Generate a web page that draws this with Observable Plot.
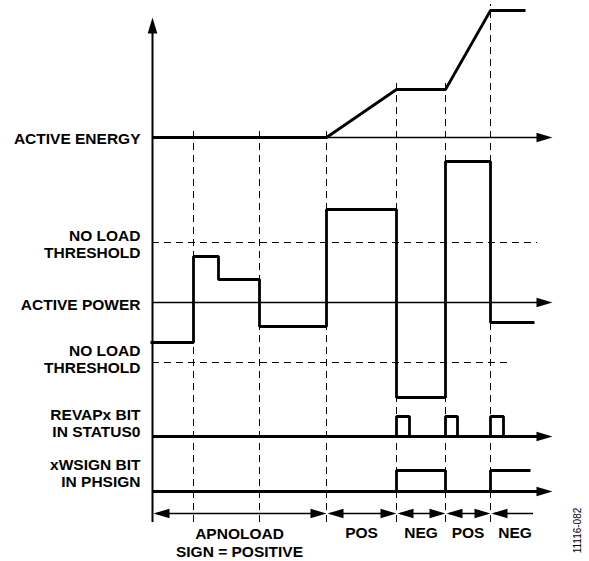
<!DOCTYPE html>
<html>
<head>
<meta charset="utf-8">
<script src="https://cdn.jsdelivr.net/npm/d3@7"></script>
<script src="https://cdn.jsdelivr.net/npm/@observablehq/plot@0.6"></script>
<style>
  html, body { margin: 0; padding: 0; background: #fff; }
  #chart { width: 589px; height: 561px; }
</style>
</head>
<body>
<div id="chart"></div>
<script>
// ---- Data (time units along the horizontal axis, signal levels) ----
const eventTimes   = [41, 107, 174, 244, 293, 338];
const energyTime   = [0, 174, 244, 293, 338, 373];
const energyValue  = [0, 0, 48, 48, 127, 127];
const powerTime    = [-2, 41, 66, 107, 174, 244, 293, 338, 382];
const powerValue   = [-40, 46, 23, -24, 93, -95, 141, -20, -20];
const noLoadThreshold = 60;
const thresholdEnds = [385, 356];           // upper, lower dashed extents
const revapTime    = [0, 244, 257, 293, 305, 338, 351, 385];
const revapBit     = [0, 1, 0, 1, 0, 1, 0, 0];
const signTime     = [0, 244, 293, 338, 378];
const signBit      = [0, 1, 0, 1, 1];
const spanStart    = [0, 174, 244, 293, 338];
const spanEnd      = [174, 244, 293, 338, 381];
const spanLabels   = ["APNOLOAD\nSIGN = POSITIVE", "POS", "NEG", "POS", "NEG"];
const figureId     = "11116-082";

// ---- Layout (track baselines in the y scale; 1 unit = 1 px) ----
const T = {energy: 424, power: 259, revap: 125, sign: 70, span: 48, bottom: 39, top: 544};
const pulse = 20;
const xEnd = 400;

const energyAt = d3.scaleLinear().domain(energyTime).range(energyValue);

const head = {
  draw(ctx) {
    ctx.moveTo(0, 0);
    ctx.lineTo(-4.8, 16);
    ctx.lineTo(4.8, 16);
    ctx.closePath();
  }
};

const energyPts = energyTime.map((t, i) => ({x: t, y: T.energy + energyValue[i]}));
const powerPts  = powerTime.map((t, i) => ({x: t, y: T.power + powerValue[i]}));
const revapPts  = revapTime.map((t, i) => ({x: t, y: T.revap + revapBit[i] * pulse}));
const signPts   = signTime.map((t, i) => ({x: t, y: T.sign + signBit[i] * (pulse + 1)}));

const heads = [
  {x: 0, y: T.top, r: 0},
  {x: xEnd, y: T.energy, r: 90},
  {x: xEnd, y: T.power, r: 90},
  {x: xEnd, y: T.revap, r: 90},
  {x: xEnd, y: T.sign, r: 90}
];
spanStart.forEach((s, i) => {
  heads.push({x: s + 1, y: T.span, r: -90});
  if (i < spanStart.length - 1) heads.push({x: spanEnd[i], y: T.span, r: 90});
});

// label baselines: offset (px, downward) from the line they describe
const leftLabels = [
  {text: "ACTIVE ENERGY", y: T.energy - 6},
  {text: "NO LOAD\nTHRESHOLD", y: T.power + noLoadThreshold - 15},
  {text: "ACTIVE POWER", y: T.power - 7},
  {text: "NO LOAD\nTHRESHOLD", y: T.power - noLoadThreshold - 10},
  {text: "REVAPx BIT\nIN STATUS0", y: T.revap},
  {text: "xWSIGN BIT\nIN PHSIGN", y: T.sign + 5}
];
const bottomLabels = spanLabels.map((s, i) => ({
  text: s,
  x: (spanStart[i] + spanEnd[i]) / 2 + (i === 4 ? 3 : 0),
  y: T.span - (i === 0 ? 43 : 24)
}));

const font = "'Liberation Sans', Arial, Helvetica, sans-serif";

const chart = Plot.plot({
  width: 589,
  height: 561,
  margin: 0,
  x: {domain: [0, xEnd], range: [152, 552], axis: null},
  y: {domain: [0, 561], range: [561, 0], axis: null},
  style: {fontFamily: font, background: "#fff", color: "#000"},
  marks: [
    // dashed event markers
    Plot.ruleX(eventTimes, {x: d => d, y1: T.bottom, y2: d => T.energy + energyAt(d) + 6,
      stroke: "#000", strokeWidth: 1, strokeDasharray: "7,5"}),
    // no-load thresholds
    Plot.ruleY([T.power + noLoadThreshold, T.power - noLoadThreshold], {
      y: d => d, x1: 0, x2: (d, i) => thresholdEnds[i],
      stroke: "#000", strokeWidth: 1, strokeDasharray: "7,5"}),
    // axes
    Plot.ruleX([0], {x: d => d, y1: T.bottom, y2: T.top - 12, stroke: "#000", strokeWidth: 2}),
    Plot.ruleY([T.energy, T.power], {y: d => d, x1: 0, x2: xEnd - 8, stroke: "#000", strokeWidth: 1.6}),
    Plot.ruleY([T.revap, T.sign], {y: d => d, x1: 0, x2: xEnd - 8, stroke: "#000", strokeWidth: 2.8}),
    // span arrows
    Plot.ruleY(spanStart, {y: T.span, x1: (d, i) => spanStart[i] + 4, x2: (d, i) => spanEnd[i] - (i < 4 ? 4 : 0),
      stroke: "#000", strokeWidth: 1.5}),
    // signals
    Plot.line(energyPts, {x: "x", y: "y", stroke: "#000", strokeWidth: 2.8,
      strokeLinejoin: "miter", strokeLinecap: "butt"}),
    Plot.line(powerPts, {x: "x", y: "y", curve: "step-after", stroke: "#000", strokeWidth: 2.8,
      strokeLinejoin: "miter", strokeLinecap: "butt"}),
    Plot.line(revapPts, {x: "x", y: "y", curve: "step-after", stroke: "#000", strokeWidth: 2.8,
      strokeLinejoin: "miter", strokeLinecap: "butt"}),
    Plot.line(signPts, {x: "x", y: "y", curve: "step-after", stroke: "#000", strokeWidth: 2.8,
      strokeLinejoin: "miter", strokeLinecap: "butt"}),
    // arrowheads
    Plot.dot(heads, {x: "x", y: "y", rotate: "r", symbol: head, r: 5, fill: "#000", stroke: "none"}),
    // labels
    Plot.text(leftLabels, {x: 0, y: "y", text: "text", dx: -12, textAnchor: "end",
      lineAnchor: "bottom", lineHeight: 1.05, fontSize: 15.5, fontWeight: "bold", fill: "#000"}),
    Plot.text(bottomLabels, {x: "x", y: "y", text: "text", textAnchor: "middle",
      lineAnchor: "bottom", lineHeight: 1.1, fontSize: 15.5, fontWeight: "bold", fill: "#000"}),
    Plot.text([figureId], {x: 425, y: 31, text: d => d, rotate: -90, fontSize: 10,
      textAnchor: "middle", lineAnchor: "middle", fill: "#000"})
  ]
});
document.getElementById("chart").appendChild(chart);
</script>
</body>
</html>
